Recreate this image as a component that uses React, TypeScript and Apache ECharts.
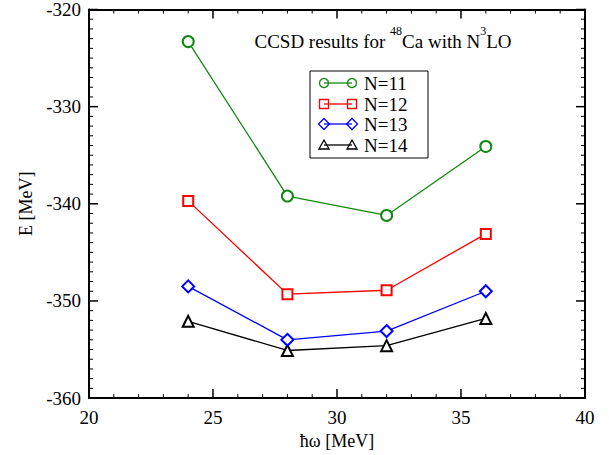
import React, { useEffect, useRef } from "react";
import * as echarts from "echarts";

const hw = [24, 28, 32, 36];
const n11 = [-323.3, -339.2, -341.2, -334.1];
const n12 = [-339.7, -349.3, -348.9, -343.1];
const n13 = [-348.5, -354.0, -353.1, -349.0];
const n14 = [-352.1, -355.1, -354.6, -351.8];
const seriesNames = ["N=11", "N=12", "N=13", "N=14"];
const xTicks = [20, 40, 5];
const yTicks = [-360, -320, 10];
const colors = ["#118811", "#ff0000", "#0000ff", "#000000"];
const symbols = ["emptyCircle", "emptyRect", "emptyDiamond", "emptyTriangle"];
const symbolSizes = [11, 10, 12, 11];

const FONT = "Liberation Serif";

function makeAxis(kind: "x" | "y", position: string, labels: boolean, extra: any = {}) {
  const [min, max, interval] = kind === "x" ? xTicks : yTicks;
  return {
    type: "value",
    gridIndex: 0,
    min,
    max,
    interval,
    position,
    axisLine: { show: true, onZero: false, lineStyle: { color: "#000", width: 2 } },
    axisTick: { show: false },
    minorTick: { show: false },
    splitLine: { show: false },
    minorSplitLine: { show: false },
    axisLabel: labels
      ? { show: true, color: "#000", fontFamily: FONT, fontSize: 19, margin: kind === "x" ? 10 : 8 }
      : { show: false },
    ...extra,
  };
}

// tick marks on all four sides: [x, y, side(0 bottom,1 top,2 left,3 right), length]
function buildTicks() {
  const out: number[][] = [];
  const [x0, x1] = xTicks;
  const [y0, y1, yStep] = yTicks;
  for (let v = x0; v <= x1; v += 1) {
    const len = v % xTicks[2] === 0 ? 9 : 4;
    out.push([v, y0, 0, len], [v, y1, 1, len]);
  }
  for (let v = y0; v <= y1; v += 1) {
    const len = (v - y0) % yStep === 0 ? 9 : 4;
    out.push([x0, v, 2, len], [x1, v, 3, len]);
  }
  return out;
}

export default function App() {
  const ref = useRef<HTMLDivElement>(null);
  useEffect(() => {
    if (!ref.current) return;
    const chart = echarts.init(ref.current, undefined, { renderer: "svg" });
    const all = [n11, n12, n13, n14];
    const lgX = 310, lgY = 71, lgW = 118, lgH = 87;
    const rowY = [83, 104, 124, 145];
    const legendEls: any[] = [
      { type: "rect", shape: { x: lgX, y: lgY, width: lgW, height: lgH }, style: { fill: "#fff", stroke: "#000", lineWidth: 1 }, z: 100 },
    ];
    const drawSym = (k: number, cx: number, cy: number) => {
      const st = { fill: "none", stroke: colors[k], lineWidth: 1.3 };
      if (k === 0) return { type: "circle", shape: { cx, cy, r: 4.5 }, style: st, z: 102 };
      if (k === 1) return { type: "rect", shape: { x: cx - 4.5, y: cy - 4.5, width: 9, height: 9 }, style: st, z: 102 };
      if (k === 2) return { type: "polygon", shape: { points: [[cx, cy - 5.5], [cx + 5.5, cy], [cx, cy + 5.5], [cx - 5.5, cy]] }, style: st, z: 102 };
      return { type: "polygon", shape: { points: [[cx, cy - 5], [cx + 5, cy + 4], [cx - 5, cy + 4]] }, style: st, z: 102 };
    };
    for (let k = 0; k < 4; k++) {
      const y = rowY[k];
      legendEls.push({ type: "line", shape: { x1: 324, y1: y, x2: 352, y2: y }, style: { stroke: colors[k], lineWidth: 1.3 }, z: 101 });
      legendEls.push(drawSym(k, 324, y));
      legendEls.push(drawSym(k, 352, y));
      legendEls.push({
        type: "text", x: 364, y, z: 102,
        style: { text: seriesNames[k], font: `19px ${FONT}`, fill: "#000", verticalAlign: "middle", align: "left" },
      });
    }
    const tickSeries = {
      type: "custom",
      name: "ticks",
      xAxisIndex: 0,
      yAxisIndex: 0,
      silent: true,
      clip: false,
      z: 20,
      data: buildTicks(),
      renderItem: (_params: any, api: any) => {
        const p = api.coord([api.value(0), api.value(1)]);
        const side = api.value(2);
        const len = api.value(3);
        let x2 = p[0], y2 = p[1];
        if (side === 0) y2 = p[1] - len;
        else if (side === 1) y2 = p[1] + len;
        else if (side === 2) x2 = p[0] + len;
        else x2 = p[0] - len;
        return {
          type: "line",
          shape: { x1: p[0], y1: p[1], x2, y2 },
          style: { stroke: "#000", lineWidth: len > 5 ? 1.5 : 1 },
        };
      },
    };
    chart.setOption({
      animation: false,
      grid: { left: 89, right: 24, top: 8, bottom: 55 },
      xAxis: [
        makeAxis("x", "bottom", true, {
          name: "ħω [MeV]", nameLocation: "middle", nameGap: 30,
          nameTextStyle: { color: "#000", fontFamily: FONT, fontSize: 18 },
        }),
        makeAxis("x", "top", false),
      ],
      yAxis: [
        makeAxis("y", "left", true, {
          name: "E [MeV]", nameLocation: "middle", nameGap: 46,
          nameTextStyle: { color: "#000", fontFamily: FONT, fontSize: 18 },
        }),
        makeAxis("y", "right", false),
      ],
      series: [
        ...all.map((vals, k) => ({
          name: seriesNames[k],
          type: "line",
          xAxisIndex: 0,
          yAxisIndex: 0,
          data: hw.map((x, i) => [x, vals[i]]),
          symbol: symbols[k],
          symbolSize: symbolSizes[k],
          showAllSymbol: true,
          lineStyle: { color: colors[k], width: 1.3 },
          itemStyle: { color: colors[k], borderColor: colors[k], borderWidth: 1.3 },
          z: 10 - k,
        })),
        tickSeries,
      ],
      graphic: [
        {
          type: "text", x: 383, y: 38, z: 100,
          style: {
            text: "{n|CCSD results for }{s|48}{n|Ca with N}{s|3}{n|LO}",
            align: "center", verticalAlign: "middle",
            rich: {
              n: { font: `19px ${FONT}`, fill: "#000", verticalAlign: "bottom", lineHeight: 26 },
              s: { font: `12px ${FONT}`, fill: "#000", verticalAlign: "top", lineHeight: 26 },
            },
          },
        },
        ...legendEls,
      ],
    });
    return () => chart.dispose();
  }, []);
  return <div ref={ref} style={{ width: 609, height: 455, position: "absolute", left: 0, top: 0 }} />;
}
